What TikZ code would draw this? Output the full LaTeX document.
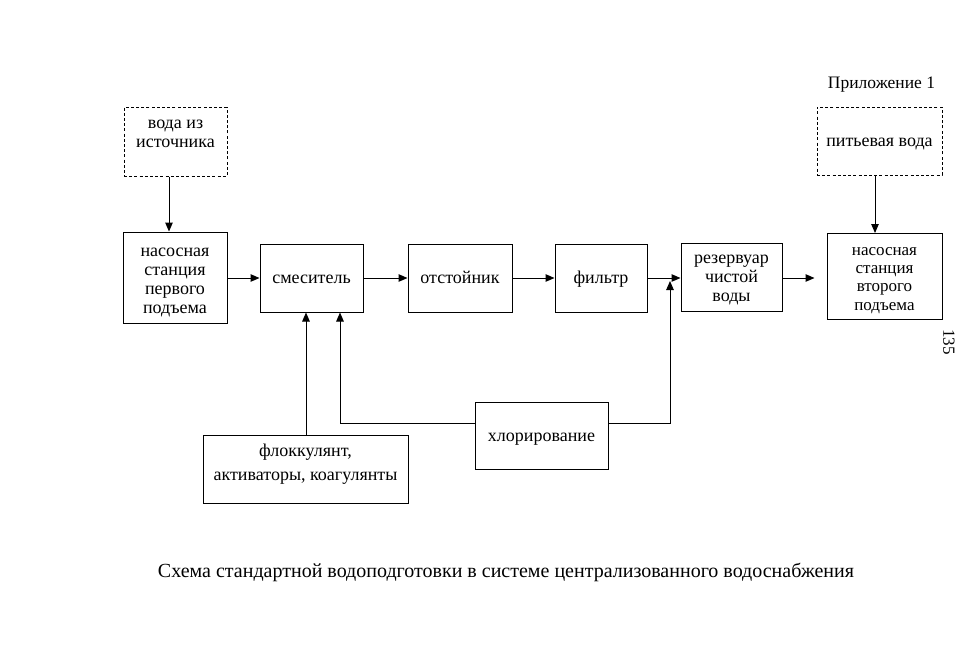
\documentclass[tikz,border=0pt]{standalone}
\usepackage{fontspec}
\setmainfont{Liberation Serif}
\usetikzlibrary{arrows.meta}
\begin{document}
\begin{tikzpicture}[x=1pt,y=-1pt,
  txt/.style={inner sep=0pt, align=center, font=\fontsize{18}{19}\selectfont,
     execute at begin node=\strut, execute at end node=\strut},
  box/.style={draw, line width=1pt, inner sep=0pt},
  dbox/.style={box, dash pattern=on 3pt off 2.2pt},
  arr/.style={line width=1pt, -{Triangle[length=9pt,width=7.5pt]}}]
\useasboundingbox (0,0) rectangle (975,654);
\fill[white] (0,0) rectangle (975,654);

\node[dbox, minimum width=103pt, minimum height=69pt] (src) at (175.5,141.5) {};
\node[txt] (srcT) at ([yshift=5pt]src.center) {вода из\\источника};
\node[box, minimum width=104pt, minimum height=91pt] (pump1) at (175,277.5) {};
\node[txt] (pump1T) at ([yshift=-6pt]pump1.center) {насосная\\станция\\первого\\подъема};
\node[box, minimum width=103pt, minimum height=68pt] (mix) at (311.5,278) {};
\node[txt] (mixT) at ([yshift=-1.5pt]mix.center) {смеситель};
\node[box, minimum width=104pt, minimum height=68pt] (settle) at (460,278) {};
\node[txt] (settleT) at ([yshift=-1.5pt]settle.center) {отстойник};
\node[box, minimum width=92pt, minimum height=68pt] (filt) at (601,278) {};
\node[txt] (filtT) at ([yshift=-1.5pt]filt.center) {фильтр};
\node[box, minimum width=101pt, minimum height=68pt] (res) at (731.5,277) {};
\node[txt] (resT) at ([yshift=-4pt]res.center) {резервуар\\чистой\\воды};
\node[box, minimum width=115pt, minimum height=86pt] (pump2) at (884.5,276.5) {};
\node[txt, font=\fontsize{17}{18.3}\selectfont] (pump2T) at ([yshift=-5pt]pump2.center) {насосная\\станция\\второго\\подъема};
\node[dbox, minimum width=125pt, minimum height=68pt] (drink) at (879.5,141) {};
\node[txt] (drinkT) at ([yshift=-2pt]drink.center) {питьевая вода};
\node[box, minimum width=205pt, minimum height=68pt] (floc) at (305.5,469) {};
\node[align=center, inner sep=0pt, font=\fontsize{18}{24}\selectfont] (flocT) at (305.5,464) {флоккулянт,\\активаторы, коагулянты};
\node[box, minimum width=133pt, minimum height=67pt] (chlor) at (541.5,435.5) {};
\node[txt] (chlorT) at ([yshift=-2pt]chlor.center) {хлорирование};

\node[font=\fontsize{17.5}{20}\selectfont, inner sep=0pt] (app) at (881.5,85) {Приложение 1};
\node[font=\fontsize{17}{20}\selectfont, inner sep=0pt, rotate=-90] (pg) at (949,342) {135};
\node[font=\fontsize{20}{22}\selectfont, inner sep=0pt] (cap) at (506,572) {Схема стандартной водоподготовки в системе централизованного водоснабжения};

\coordinate (j) at (670,281);

\draw[arr] ([xshift=-6.5pt]src.south) -- ([xshift=-6.5pt]src.south |- pump1.north);
\draw[arr] ([xshift=-4.5pt]drink.south) -- ([xshift=-4.5pt]drink.south |- pump2.north);
\draw[arr] ([yshift=-0.5pt]pump1.east) -- ([yshift=-0.5pt]pump1.east -| mix.west);
\draw[arr] (mix.east) -- (settle.west);
\draw[arr] (settle.east) -- (filt.west);
\draw[arr] (filt.east) -- (filt.east -| res.west);
\draw[arr, shorten >=12pt] ([yshift=-1pt]res.east) -- ([yshift=-1pt]res.east -| pump2.west);
\draw[arr] ([xshift=0.5pt]floc.north) -- ([xshift=0.5pt]floc.north |- mix.south);
\draw[arr] ([yshift=12.5pt]chlor.west) -| ([xshift=28.5pt]mix.south);
\draw[arr] ([yshift=12.5pt]chlor.east) -| (j);
\end{tikzpicture}
\end{document}
